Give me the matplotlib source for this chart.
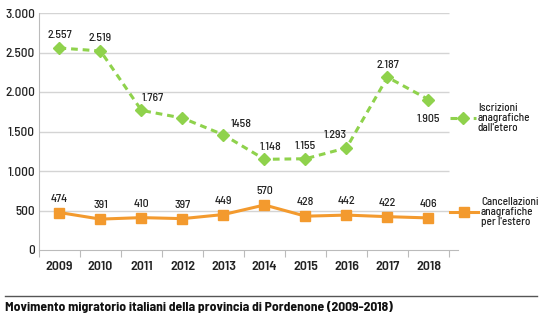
import matplotlib
matplotlib.use("Agg")
from matplotlib import pyplot as plt
from matplotlib.lines import Line2D

## Data
years = ['2009', '2010', '2011', '2012', '2013', '2014', '2015', '2016', '2017', '2018']
iscrizioni = [2557, 2519, 1767, 1670, 1458, 1148, 1155, 1293, 2187, 1905]
iscr_labels = ['2.557', '2.519', '1.767', '', '1458', '1.148', '1.155', '1.293', '2.187', '1.905']
cancellazioni = [474, 391, 410, 397, 449, 570, 428, 442, 422, 406]
canc_labels = ['474', '391', '410', '397', '449', '570', '428', '442', '422', '406']
yticks = [0, 500, 1000, 1500, 2000, 2500, 3000]
ytick_labels = ['0', '500', '1.000', '1.500', '2.000', '2.500', '3.000']

GREEN = '#8fd24c'
ORANGE = '#f39a2e'
GRID = '#d4d4d4'
TXT = '#222222'
plt.rcParams['font.family'] = ['Barlow Semi Condensed', 'DejaVu Sans']
plt.rcParams['font.weight'] = 500

W, H = 544, 322
fig = plt.figure(figsize=(W / 100, H / 100), dpi=100)
ax = fig.add_axes([39 / W, 1 - 250 / H, (458 - 39) / W, 237 / H])

x = list(range(len(years)))
ax.set_xlim(-0.5, 9.72)
ax.set_ylim(0, 3000)

## Grid + axes
ax.hlines(yticks[1:], -0.5, 9.5, color=GRID, lw=1, zorder=0)
for s in ['top', 'right']:
    ax.spines[s].set_visible(False)
ax.spines['left'].set_color('#bbbbbb')
ax.spines['bottom'].set_color('#bbbbbb')
ax.set_yticks(yticks)
ax.set_yticklabels(ytick_labels, fontsize=9.5, color=TXT)
ax.tick_params(axis='y', length=0, pad=3)
ax.set_xticks([i - 0.5 for i in range(11)])
ax.set_xticklabels([])
ax.tick_params(axis='x', length=5, color='#bbbbbb', direction='out')
for i, yr in enumerate(years):
    ax.text(i, -0.072, yr, transform=ax.get_xaxis_transform(), ha='center', va='center',
            fontsize=10, fontweight=600, color=TXT)

## Lines
ax.plot(x, iscrizioni, color=GREEN, lw=2.2, ls=(0, (2.2, 1.6)), marker='D', ms=6.5,
        markeredgecolor=GREEN, zorder=3)
ax.plot(x, cancellazioni, color=ORANGE, lw=2.2, marker='s', ms=7,
        markeredgecolor=ORANGE, zorder=3)

## Data labels
green_off = [(0, 9), (0, 9), (8, 9), (0, 9), (13, 8), (4, 9), (0, 9), (-8, 9), (0, 9), (0, -14)]
for i, (v, lab) in enumerate(zip(iscrizioni, iscr_labels)):
    if lab:
        ax.annotate(lab, (i, v), xytext=green_off[i], textcoords='offset points',
                    ha='center', va='center', fontsize=8.5, color=TXT)
for i, (v, lab) in enumerate(zip(cancellazioni, canc_labels)):
    ax.annotate(lab, (i, v), xytext=(0, 10), textcoords='offset points',
                ha='center', va='center', fontsize=8.5, color=TXT)

## Legend at right
fig.add_artist(Line2D([450 / W, 476 / W], [1 - 118 / H] * 2, color=GREEN, lw=2.2,
                      ls=(0, (2.2, 1.6))))
fig.add_artist(Line2D([463 / W], [1 - 118 / H], color=GREEN, marker='D', ms=6.5))
fig.text(478 / W, 1 - 118 / H, 'Iscrizioni\nanagrafiche\ndall\'etero', fontsize=8,
         va='center', ha='left', color=TXT, linespacing=0.95)
fig.add_artist(Line2D([450 / W, 478 / W], [1 - 212 / H] * 2, color=ORANGE, lw=2.2))
fig.add_artist(Line2D([464 / W], [1 - 212 / H], color=ORANGE, marker='s', ms=7))
fig.text(481 / W, 1 - 212 / H, 'Cancellazioni\nanagrafiche\nper l\'estero', fontsize=8,
         va='center', ha='left', color=TXT, linespacing=0.95)

## Title
fig.add_artist(Line2D([5 / W, 537 / W], [1 - 296 / H] * 2, color='#555555', lw=1))
fig.text(5 / W, 1 - 307 / H, 'Movimento migratorio italiani della provincia di Pordenone (2009-2018)',
         fontsize=9.8, fontweight=700, va='center', ha='left', color='#111111')

fig.savefig('out.png', dpi=100)
